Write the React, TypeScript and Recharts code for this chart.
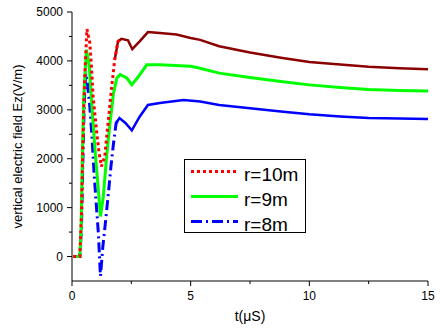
import { LineChart, Line, XAxis, YAxis } from "recharts";

// r=10m (red dotted, dark red tail)
const tR10 = [0.05, 0.33, 0.4, 0.46, 0.535, 0.63, 0.75, 0.82, 0.89, 1.03, 1.14, 1.24, 1.38, 1.52, 1.66, 1.8, 1.94, 2.08, 2.36, 2.54, 2.85, 3.2, 3.7, 4.4, 5.0, 5.4, 6.2, 7.5, 8.8, 10, 11.3, 12.5, 13.8, 15];
const vR10 = [0, 0, 890, 2390, 3680, 4650, 4370, 3890, 3270, 2590, 2120, 1840, 2050, 2730, 3410, 4030, 4400, 4450, 4420, 4240, 4400, 4590, 4570, 4540, 4470, 4430, 4300, 4170, 4065, 3980, 3925, 3880, 3850, 3830];

// r=9m (green solid)
const tR9 = [0.05, 0.33, 0.38, 0.43, 0.49, 0.61, 0.73, 0.82, 0.97, 1.11, 1.2, 1.32, 1.46, 1.6, 1.75, 1.89, 2.03, 2.31, 2.52, 2.8, 3.15, 3.7, 4.55, 5.0, 5.4, 6.2, 7.5, 8.8, 10, 11.3, 12.5, 13.8, 15];
const vR9 = [0, 0, 500, 1840, 3200, 4230, 3890, 3200, 2180, 1365, 820, 1230, 2050, 2730, 3340, 3650, 3720, 3650, 3510, 3680, 3920, 3920, 3900, 3890, 3850, 3750, 3660, 3580, 3510, 3455, 3415, 3395, 3385];

// r=8m (blue dash-dot)
const tR8 = [0.05, 0.33, 0.4, 0.46, 0.52, 0.58, 0.66, 0.75, 0.85, 0.93, 1.03, 1.11, 1.2, 1.3, 1.42, 1.52, 1.64, 1.75, 1.86, 2.0, 2.25, 2.52, 2.85, 3.2, 3.7, 4.7, 5.4, 6.2, 7.5, 8.8, 10, 11.3, 12.5, 13.8, 15];
const vR8 = [0, 0, 600, 2000, 3200, 3750, 3500, 3070, 2390, 1710, 1020, 480, -400, 205, 750, 1230, 1840, 2320, 2730, 2830, 2730, 2580, 2860, 3100, 3140, 3200, 3170, 3100, 3030, 2965, 2910, 2865, 2835, 2820, 2810];

const xMajor = [0, 5, 10, 15];
const xMinor = [2.5, 7.5, 12.5];
const yMajor = [0, 1000, 2000, 3000, 4000, 5000];
const yMinor = [500, 1500, 2500, 3500, 4500];

const legendNames = ["r=10m", "r=9m", "r=8m"];

const FONT = '"Liberation Sans", Arial, sans-serif';

const zip = (ts: number[], vs: number[]) => ts.map((t, i) => ({ t, v: vs[i] }));

const r10 = zip(tR10, vR10);
const r9 = zip(tR9, vR9);
const r8 = zip(tR8, vR8);

// early part drawn with the dash pattern, tail drawn dense
const r10Early = r10.filter((d) => d.t <= 2.08);
const r10Late = r10.filter((d) => d.t >= 1.8);
const r8Early = r8.filter((d) => d.t <= 2.0);
const r8Late = r8.filter((d) => d.t >= 1.86);

const XTick = (props: any) => {
  const { x, y, payload } = props;
  const major = xMajor.includes(payload.value);
  return (
    <g>
      <line x1={x} x2={x} y1={y} y2={y + (major ? 5 : 3)} stroke="#000" />
      {major && (
        <text x={x} y={y + 19} textAnchor="middle" fontSize={12} fontFamily={FONT} fill="#000">
          {payload.value}
        </text>
      )}
    </g>
  );
};

const YTick = (props: any) => {
  const { x, y, payload } = props;
  const major = yMajor.includes(payload.value);
  return (
    <g>
      <line x1={x} x2={x - (major ? 5 : 3)} y1={y} y2={y} stroke="#000" />
      {major && (
        <text x={x - 9} y={y + 4.3} textAnchor="end" fontSize={12} fontFamily={FONT} fill="#000">
          {payload.value}
        </text>
      )}
    </g>
  );
};

const YLabel = (props: any) => {
  const vb = props.viewBox || { x: 0, y: 12, width: 72, height: 269 };
  const cx = vb.x + 22;
  const cy = vb.y + vb.height / 2;
  return (
    <text x={cx} y={cy} transform={`rotate(-90 ${cx} ${cy})`} textAnchor="middle" fontSize={13} fontFamily={FONT} fill="#000">
      vertical electric field Ez(V/m)
    </text>
  );
};

const XLabel = (props: any) => {
  const vb = props.viewBox || { x: 72, y: 281, width: 356, height: 47 };
  return (
    <text x={vb.x + vb.width / 2} y={vb.y + 40} textAnchor="middle" fontSize={14} fontFamily={FONT} fill="#000">
      t(μS)
    </text>
  );
};

export default function App() {
  return (
    <div style={{ position: "absolute", left: 0, top: 0, width: 440, height: 328, background: "#fff" }}>
      <LineChart width={440} height={328} margin={{ top: 12, right: 12, bottom: 0, left: 0 }}>
        <XAxis
          type="number"
          dataKey="t"
          domain={[0, 15]}
          ticks={[...xMajor, ...xMinor].sort((a, b) => a - b)}
          interval={0}
          height={47}
          tickSize={0}
          tickMargin={0}
          tick={<XTick />}
          axisLine={{ stroke: "#000" }}
          label={<XLabel />}
          allowDuplicatedCategory={false}
        />
        <YAxis
          type="number"
          dataKey="v"
          domain={[-500, 5000]}
          ticks={[...yMajor, ...yMinor].sort((a, b) => a - b)}
          interval={0}
          width={72}
          tickSize={0}
          tickMargin={0}
          tick={<YTick />}
          axisLine={{ stroke: "#000" }}
          label={<YLabel />}
          allowDataOverflow
        />

        {/* r=8m */}
        <Line data={r8Early} dataKey="v" type="linear" stroke="#0000ff" strokeWidth={3} strokeDasharray="10 4 2 4" dot={false} isAnimationActive={false} />
        <Line data={r8Late} dataKey="v" type="linear" stroke="#0000ff" strokeWidth={2.5} dot={false} isAnimationActive={false} />

        {/* r=9m */}
        <Line data={r9} dataKey="v" type="linear" stroke="#00ff00" strokeWidth={3} dot={false} isAnimationActive={false} />

        {/* r=10m */}
        <Line data={r10Late} dataKey="v" type="linear" stroke="#8b0000" strokeWidth={2.5} dot={false} isAnimationActive={false} />
        <Line data={r10Early} dataKey="v" type="linear" stroke="#ff0000" strokeWidth={3} strokeDasharray="3 3" dot={false} isAnimationActive={false} />
      </LineChart>

      {/* legend box */}
      <div
        style={{
          position: "absolute",
          left: 184,
          top: 159,
          width: 122,
          height: 74,
          border: "1px solid #000",
          boxSizing: "border-box",
          background: "#fff",
        }}
      >
        <svg width={122} height={74} style={{ position: "absolute", left: -1, top: -1 }}>
          <line x1={7} x2={54} y1={12.5} y2={12.5} stroke="#ff0000" strokeWidth={3} strokeDasharray="3 3" />
          <line x1={7} x2={54} y1={37.5} y2={37.5} stroke="#00ff00" strokeWidth={3} />
          <line x1={7} x2={54} y1={62.5} y2={62.5} stroke="#0000ff" strokeWidth={3} strokeDasharray="11 4 2 4" />
          {legendNames.map((n, i) => (
            <text key={n} x={60} y={21.5 + i * 25} fontSize={19} fontFamily={FONT} fill="#000">
              {n}
            </text>
          ))}
        </svg>
      </div>
    </div>
  );
}
